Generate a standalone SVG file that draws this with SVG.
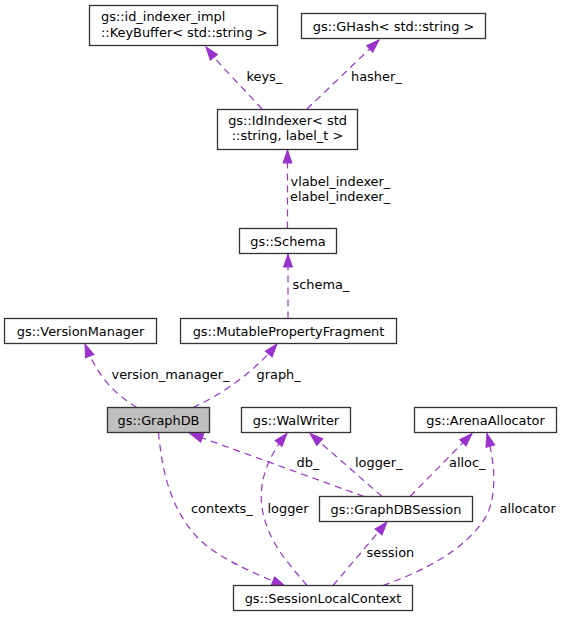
<svg xmlns="http://www.w3.org/2000/svg" width="562" height="617" viewBox="0 0 562 617">
<defs>
<marker id="arr" markerUnits="userSpaceOnUse" markerWidth="16" markerHeight="12" viewBox="0 -6 14 12" refX="13" refY="0" orient="auto">
<polygon points="0,-4.5 13,0 0,4.5" fill="#9a32cd" stroke="#9a32cd" stroke-width="1"/>
</marker>
</defs>
<style>
.node rect{fill:#ffffff;stroke:#333333;stroke-width:1.3}
.node.focus rect{fill:#bfbfbf}
text{font-family:"DejaVu Sans","Liberation Sans",sans-serif;font-size:12.9px;fill:#000000}
.node text{text-anchor:middle}
.edges path{fill:none;stroke:#9a32cd;stroke-width:1.2;stroke-dasharray:7,5;marker-end:url(#arr)}
</style>
<rect width="562" height="617" fill="#ffffff"/>
<g class="edges" id="edges">
<path d="M262,109 C245,90 222,68 206,47"/>
<path d="M307,109 C330,87 355,63 379,40"/>
<path d="M287.5,228.5 L287.5,150"/>
<path d="M288,318.5 L288,254"/>
<path d="M137,407.5 C115,394 98,378 85,344"/>
<path d="M193,407.5 C222,394 252,374 277,344"/>
<path d="M158.5,432.5 C162,470 170,508 197,537 C215,556 250,572 285,586"/>
<path d="M364,496.5 L190,433.5"/>
<path d="M382,496.5 L310,433.5"/>
<path d="M410,496.5 L472,433.5"/>
<path d="M307,585.5 C290,565 270,545 263,513 C258,490 263,462 287,433.5"/>
<path d="M333,585.5 L387,522"/>
<path d="M383,585.5 C420,572 465,552 487,515 C498,490 494,460 487,433.5"/>
</g>
<g id="edge-labels">
<text x="246.5" y="81">keys_</text>
<text x="351" y="81">hasher_</text>
<text x="290.5" y="185.5">vlabel_indexer_</text>
<text x="290" y="200.5">elabel_indexer_</text>
<text x="292.5" y="288.5">schema_</text>
<text x="111.5" y="378.5">version_manager_</text>
<text x="256.5" y="378.5">graph_</text>
<text x="296.5" y="466.5">db_</text>
<text x="355" y="466.5">logger_</text>
<text x="449" y="466.5">alloc_</text>
<text x="191" y="512.5">contexts_</text>
<text x="267.5" y="512.5">logger</text>
<text x="499.5" y="512.5">allocator</text>
<text x="366.5" y="556.5">session</text>
</g>
<g class="node" id="node-keybuffer">
<rect x="89.5" y="5.5" width="188" height="40"/>
<text x="101" y="21" style="text-anchor:start">gs::id_indexer_impl</text>
<text x="101" y="36.5" style="text-anchor:start">::KeyBuffer&lt; std::string &gt;</text>
</g>
<g class="node" id="node-ghash">
<rect x="301.5" y="13.5" width="184" height="25"/>
<text x="393.5" y="30.5">gs::GHash&lt; std::string &gt;</text>
</g>
<g class="node" id="node-idindexer">
<rect x="217.5" y="109.5" width="140" height="40"/>
<text x="287.5" y="125">gs::IdIndexer&lt; std</text>
<text x="287.5" y="140">::string, label_t &gt;</text>
</g>
<g class="node" id="node-schema">
<rect x="239.5" y="228.5" width="97" height="25"/>
<text x="288" y="245.5">gs::Schema</text>
</g>
<g class="node" id="node-versionmanager">
<rect x="4.5" y="318.5" width="152" height="25"/>
<text x="80.5" y="335.5">gs::VersionManager</text>
</g>
<g class="node" id="node-mpf">
<rect x="180.5" y="318.5" width="216" height="25"/>
<text x="288.5" y="335.5">gs::MutablePropertyFragment</text>
</g>
<g class="node focus" id="node-graphdb">
<rect x="107.5" y="407.5" width="102" height="25"/>
<text x="158.5" y="424.5">gs::GraphDB</text>
</g>
<g class="node" id="node-walwriter">
<rect x="241.5" y="407.5" width="109" height="25"/>
<text x="296" y="424.5">gs::WalWriter</text>
</g>
<g class="node" id="node-arenaallocator">
<rect x="414.5" y="407.5" width="142" height="25"/>
<text x="485.5" y="424.5">gs::ArenaAllocator</text>
</g>
<g class="node" id="node-graphdbsession">
<rect x="319.5" y="496.5" width="153" height="25"/>
<text x="396" y="513.5">gs::GraphDBSession</text>
</g>
<g class="node" id="node-slc">
<rect x="233.5" y="585.5" width="179" height="25"/>
<text x="323" y="602.5">gs::SessionLocalContext</text>
</g>
</svg>
